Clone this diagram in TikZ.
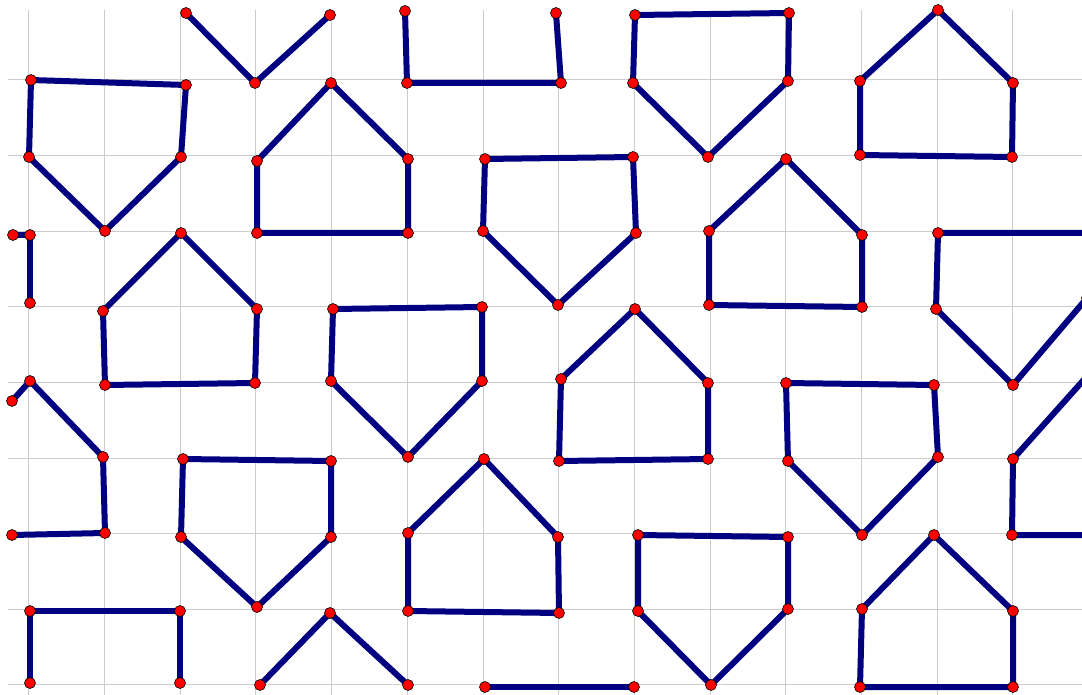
\documentclass[tikz,border=0pt]{standalone}
\usepackage{tikz}
\usetikzlibrary{backgrounds}
\definecolor{navyline}{RGB}{0,0,128}

\begin{document}
\begin{tikzpicture}[x=1pt, y=-1pt,
        pnt/.style={circle, draw=black, line width=0.6pt, fill=red, inner sep=0pt, minimum size=11pt},
        seg/.style={draw=navyline, line width=6pt, line join=round},
        gridline/.style={draw=black!20, line width=1pt}]
        \useasboundingbox (0,0) rectangle (1082,695);

        % Top row
        \node[pnt] (a1) at (186,13) {};
        \node[pnt] (a2) at (255,83) {};
        \node[pnt] (a3) at (330,15) {};
        \node[pnt] (b1) at (405,11) {};
        \node[pnt] (b2) at (407,83) {};
        \node[pnt] (b3) at (561,83) {};
        \node[pnt] (b4) at (556,13) {};
        \node[pnt] (c1) at (635,15) {};
        \node[pnt] (c2) at (789,13) {};
        \node[pnt] (c3) at (788,81) {};
        \node[pnt] (c4) at (708,157) {};
        \node[pnt] (c5) at (633,83) {};
        \node[pnt] (d1) at (938,10) {};
        \node[pnt] (d2) at (1013,83) {};
        \node[pnt] (d3) at (1012,157) {};
        \node[pnt] (d4) at (860,155) {};
        \node[pnt] (d5) at (860,81) {};

        % Second row
        \node[pnt] (e1) at (31,80) {};
        \node[pnt] (e2) at (186,85) {};
        \node[pnt] (e3) at (181,157) {};
        \node[pnt] (e4) at (105,231) {};
        \node[pnt] (e5) at (29,157) {};
        \node[pnt] (f1) at (331,83) {};
        \node[pnt] (f2) at (408,159) {};
        \node[pnt] (f3) at (408,233) {};
        \node[pnt] (f4) at (257,233) {};
        \node[pnt] (f5) at (257,161) {};
        \node[pnt] (g1) at (485,159) {};
        \node[pnt] (g2) at (633,157) {};
        \node[pnt] (g3) at (636,233) {};
        \node[pnt] (g4) at (558,305) {};
        \node[pnt] (g5) at (483,231) {};
        \node[pnt] (h1) at (786,159) {};
        \node[pnt] (h2) at (862,235) {};
        \node[pnt] (h3) at (862,307) {};
        \node[pnt] (h4) at (709,305) {};
        \node[pnt] (h5) at (709,231) {};
        \node[pnt] (i1) at (938,233) {};
        \node[pnt] (i2) at (1089,233) {};
        \node[pnt] (i3) at (1087,298) {};
        \node[pnt] (i4) at (1013,385) {};
        \node[pnt] (i5) at (936,309) {};

        % Third row
        \node[pnt] (j1) at (13,235) {};
        \node[pnt] (j2) at (30,235) {};
        \node[pnt] (j3) at (30,303) {};
        \node[pnt] (k1) at (181,233) {};
        \node[pnt] (k2) at (257,309) {};
        \node[pnt] (k3) at (255,383) {};
        \node[pnt] (k4) at (105,385) {};
        \node[pnt] (k5) at (103,311) {};
        \node[pnt] (l1) at (333,309) {};
        \node[pnt] (l2) at (482,307) {};
        \node[pnt] (l3) at (482,381) {};
        \node[pnt] (l4) at (408,457) {};
        \node[pnt] (l5) at (331,381) {};
        \node[pnt] (m1) at (635,309) {};
        \node[pnt] (m2) at (708,383) {};
        \node[pnt] (m3) at (708,459) {};
        \node[pnt] (m4) at (559,461) {};
        \node[pnt] (m5) at (561,379) {};
        \node[pnt] (n1) at (786,383) {};
        \node[pnt] (n2) at (934,385) {};
        \node[pnt] (n3) at (938,457) {};
        \node[pnt] (n4) at (862,535) {};
        \node[pnt] (n5) at (788,461) {};
        \node[pnt] (o1) at (1089,374) {};
        \node[pnt] (o2) at (1013,459) {};
        \node[pnt] (o3) at (1012,535) {};
        \node[pnt] (o4) at (1165,535) {};

        % Fourth row
        \node[pnt] (p1) at (12,401) {};
        \node[pnt] (p2) at (30,381) {};
        \node[pnt] (p3) at (103,457) {};
        \node[pnt] (p4) at (105,533) {};
        \node[pnt] (p5) at (12,535) {};
        \node[pnt] (q1) at (183,459) {};
        \node[pnt] (q2) at (331,461) {};
        \node[pnt] (q3) at (331,537) {};
        \node[pnt] (q4) at (257,607) {};
        \node[pnt] (q5) at (181,537) {};
        \node[pnt] (r1) at (484,459) {};
        \node[pnt] (r2) at (558,537) {};
        \node[pnt] (r3) at (559,613) {};
        \node[pnt] (r4) at (408,611) {};
        \node[pnt] (r5) at (408,533) {};
        \node[pnt] (s1) at (638,535) {};
        \node[pnt] (s2) at (788,537) {};
        \node[pnt] (s3) at (788,609) {};
        \node[pnt] (s4) at (711,685) {};
        \node[pnt] (s5) at (638,611) {};
        \node[pnt] (t1) at (934,535) {};
        \node[pnt] (t2) at (1013,611) {};
        \node[pnt] (t3) at (1013,687) {};
        \node[pnt] (t4) at (860,687) {};
        \node[pnt] (t5) at (862,609) {};

        % Bottom row
        \node[pnt] (u1) at (30,683) {};
        \node[pnt] (u2) at (30,611) {};
        \node[pnt] (u3) at (180,611) {};
        \node[pnt] (u4) at (180,683) {};
        \node[pnt] (v1) at (260,685) {};
        \node[pnt] (v2) at (330,613) {};
        \node[pnt] (v3) at (408,685) {};
        \node[pnt] (w1) at (485,687) {};
        \node[pnt] (w2) at (634,687) {};

        \begin{scope}[on background layer]
            % Grid
            \foreach \i in {0,...,13}
                \draw[gridline] ({28.8+75.7*\i},10) -- ({28.8+75.7*\i},695);
            \foreach \j in {0,...,8}
                \draw[gridline] (8,{80+75.6*\j}) -- (1082,{80+75.6*\j});

            % Open pieces
            \draw[seg] (a1.center) -- (a2.center) -- (a3.center);
            \draw[seg] (b1.center) -- (b2.center) -- (b3.center) -- (b4.center);
            \draw[seg] (j1.center) -- (j2.center) -- (j3.center);
            \draw[seg] (o1.center) -- (o2.center) -- (o3.center) -- (o4.center);
            \draw[seg] (p1.center) -- (p2.center) -- (p3.center) -- (p4.center) -- (p5.center);
            \draw[seg] (u1.center) -- (u2.center) -- (u3.center) -- (u4.center);
            \draw[seg] (v1.center) -- (v2.center) -- (v3.center);
            \draw[seg] (w1.center) -- (w2.center);

            % Closed pentagons
            \foreach \s in {c,d,e,f,g,h,i,k,l,m,n,q,r,s,t}
                \draw[seg] (\s1.center) -- (\s2.center) -- (\s3.center) -- (\s4.center) -- (\s5.center) -- cycle;
        \end{scope}
\end{tikzpicture}
\end{document}
